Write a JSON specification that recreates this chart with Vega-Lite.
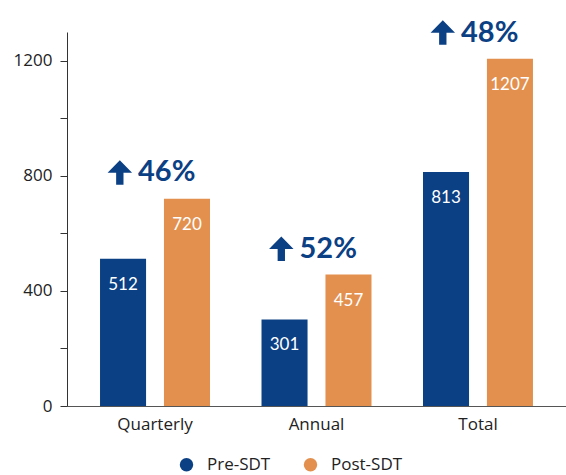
{
  "$schema": "https://vega.github.io/schema/vega-lite/v6.json",
  "autosize": {"type": "none"},
  "width": 499,
  "height": 374,
  "padding": {"left": 67, "top": 32, "right": 0, "bottom": 69},
  "background": "white",
  "config": {
    "view": {"stroke": null},
    "font": "Lato",
    "axis": {"labelFont": "Open Sans", "labelFontSize": 17, "labelColor": "#222222", "domainColor": "#333333", "tickColor": "#333333", "grid": false, "title": null},
    "legend": {"labelFont": "Open Sans", "labelFontSize": 17, "labelColor": "#222222"}
  },
  "datasets": {
    "bars": [
      {"group": "Quarterly", "series": "Pre-SDT", "value": 512},
      {"group": "Quarterly", "series": "Post-SDT", "value": 720},
      {"group": "Annual", "series": "Pre-SDT", "value": 301},
      {"group": "Annual", "series": "Post-SDT", "value": 457},
      {"group": "Total", "series": "Pre-SDT", "value": 813},
      {"group": "Total", "series": "Post-SDT", "value": 1207}
    ],
    "notes": [
      {"group": "Quarterly", "label": "46%", "y": 812},
      {"group": "Annual", "label": "52%", "y": 547},
      {"group": "Total", "label": "48%", "y": 1298}
    ]
  },
  "layer": [
    {
      "data": {"name": "bars"},
      "mark": {"type": "bar"},
      "encoding": {
        "x": {"field": "group", "type": "nominal", "sort": ["Quarterly", "Annual", "Total"], "scale": {"paddingInner": 0.319, "paddingOuter": 0.2045}, "axis": {"labelAngle": 0, "ticks": false, "labelPadding": 10, "domainColor": "#555555"}},
        "xOffset": {"field": "series", "type": "nominal", "sort": ["Pre-SDT", "Post-SDT"], "scale": {"paddingInner": 0.28, "paddingOuter": 0}},
        "y": {"field": "value", "type": "quantitative", "scale": {"domain": [0, 1300], "nice": false}, "axis": {"values": [0, 100, 200, 300, 400, 500, 600, 700, 800, 900, 1000, 1100, 1200, 1300], "labelExpr": "datum.value % 400 == 0 ? datum.label : ''", "tickSize": 7, "labelPadding": 8, "format": "d"}},
        "color": {"field": "series", "type": "nominal", "sort": ["Pre-SDT", "Post-SDT"], "scale": {"domain": ["Pre-SDT", "Post-SDT"], "range": ["#0C4084", "#E3904F"]}, "legend": {"title": null, "orient": "none", "direction": "horizontal", "legendX": 111, "legendY": 424, "symbolType": "circle", "symbolSize": 180, "symbolStrokeWidth": 0, "labelOffset": 12, "columnPadding": 31}}
      }
    },
    {
      "data": {"name": "bars"},
      "mark": {"type": "text", "color": "white", "fontSize": 17, "baseline": "alphabetic", "dy": 31, "font": "Lato"},
      "encoding": {
        "x": {"field": "group", "type": "nominal", "sort": ["Quarterly", "Annual", "Total"]},
        "xOffset": {"field": "series", "type": "nominal", "sort": ["Pre-SDT", "Post-SDT"]},
        "y": {"field": "value", "type": "quantitative"},
        "text": {"field": "value", "type": "quantitative"}
      }
    },
    {
      "data": {"name": "notes"},
      "mark": {"type": "point", "filled": true, "opacity": 1, "color": "#0C4084", "size": 600, "shape": "M0,-1L1,0.02L0.3,0.02L0.3,1L-0.3,1L-0.3,0.02L-1,0.02Z"},
      "encoding": {
        "x": {"field": "group", "type": "nominal", "sort": ["Quarterly", "Annual", "Total"], "bandPosition": 0.18},
        "y": {"field": "y", "type": "quantitative"}
      }
    },
    {
      "data": {"name": "notes"},
      "mark": {"type": "text", "color": "#0C4084", "fontSize": 29, "fontWeight": "bold", "font": "Lato", "align": "left", "baseline": "middle", "dx": -17},
      "encoding": {
        "x": {"field": "group", "type": "nominal", "sort": ["Quarterly", "Annual", "Total"]},
        "y": {"field": "y", "type": "quantitative"},
        "text": {"field": "label", "type": "nominal"}
      }
    }
  ]
}
